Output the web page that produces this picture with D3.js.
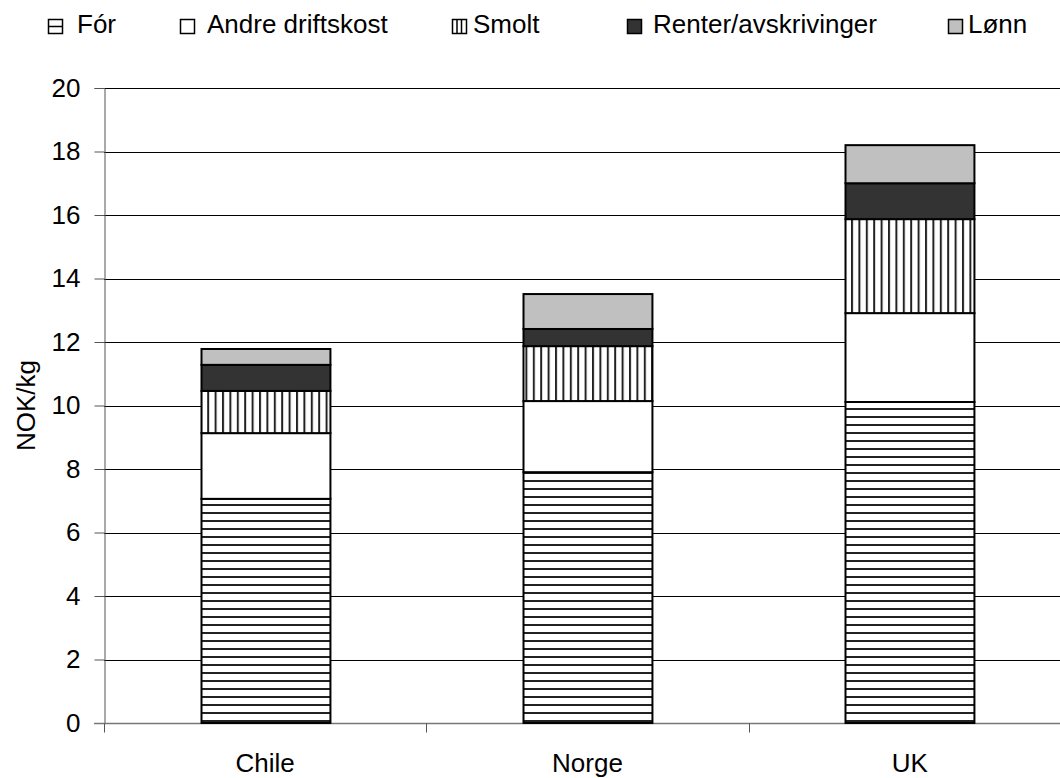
<!DOCTYPE html>
<html>
<head>
<meta charset="utf-8">
<script src="https://cdn.jsdelivr.net/npm/d3@7"></script>
<style>
  body { margin: 0; background: #fff; }
  text { font-family: "Liberation Sans", Arial, sans-serif; fill: #000; }
</style>
</head>
<body>
<script>
// data
const countries = ["Chile", "Norge", "UK"];
const seriesNames = ["Fór", "Andre driftskost", "Smolt", "Renter/avskrivinger", "Lønn"];
const forCost = [7.06, 7.9, 10.11];
const andreCost = [2.07, 2.24, 2.8];
const smoltCost = [1.33, 1.73, 2.96];
const renterCost = [0.82, 0.54, 1.13];
const lonnCost = [0.5, 1.1, 1.2];
const yTicks = [0, 2, 4, 6, 8, 10, 12, 14, 16, 18, 20];

const width = 1060, height = 778;
const margin = { top: 88, right: -11, bottom: 55, left: 104 };
const fontSize = "26px";

const rows = countries.map((c, i) => ({
    country: c,
    "Fór": forCost[i],
    "Andre driftskost": andreCost[i],
    "Smolt": smoltCost[i],
    "Renter/avskrivinger": renterCost[i],
    "Lønn": lonnCost[i]
}));

const stack = d3.stack().keys(seriesNames)(rows);

const svg = d3.select("body").append("svg")
    .attr("width", width)
    .attr("height", height);

// patterns
const defs = svg.append("defs");
const hp = defs.append("pattern")
    .attr("id", "hlines").attr("patternUnits", "userSpaceOnUse")
    .attr("width", 8).attr("height", 8);
hp.append("rect").attr("width", 8).attr("height", 8).attr("fill", "#fff");
hp.append("rect").attr("y", 0).attr("width", 8).attr("height", 2).attr("fill", "#222");

const vp = defs.append("pattern")
    .attr("id", "vlines").attr("patternUnits", "userSpaceOnUse")
    .attr("width", 7.4).attr("height", 8);
vp.append("rect").attr("width", 7.4).attr("height", 8).attr("fill", "#fff");
vp.append("rect").attr("x", 0).attr("width", 2).attr("height", 8).attr("fill", "#222");

const fills = {
    "Fór": "url(#hlines)",
    "Andre driftskost": "#fff",
    "Smolt": "url(#vlines)",
    "Renter/avskrivinger": "#333333",
    "Lønn": "#c0c0c0"
};

const x = d3.scaleBand()
    .domain(countries)
    .range([margin.left, width - margin.right])
    .paddingInner(0.6).paddingOuter(0.3);

const y = d3.scaleLinear()
    .domain([0, 20])
    .range([height - margin.bottom, margin.top]);

// gridlines
svg.append("g")
    .selectAll("line")
    .data(yTicks.filter(d => d > 0))
    .join("line")
    .attr("x1", margin.left).attr("x2", width)
    .attr("y1", d => Math.round(y(d)) + 0.5).attr("y2", d => Math.round(y(d)) + 0.5)
    .attr("stroke", "#000").attr("stroke-width", 1);

// y axis
const yAxis = svg.append("g")
    .attr("transform", `translate(${margin.left + 0.5},0)`)
    .call(d3.axisLeft(y).tickValues(yTicks).tickSize(10).tickPadding(14));
yAxis.select(".domain").attr("stroke", "#555");
yAxis.selectAll(".tick line").attr("stroke", "#555");
yAxis.selectAll("text")
    .attr("fill", "#000")
    .style("font-size", fontSize)
    .style("font-family", "Liberation Sans, Arial, sans-serif");

// x axis
const band = (width - margin.right - margin.left) / 3;
const xAxisG = svg.append("g")
    .attr("transform", `translate(0,${Math.round(y(0)) + 0.5})`);
xAxisG.append("line")
    .attr("x1", margin.left - 10).attr("x2", width)
    .attr("stroke", "#777").attr("stroke-width", 1.5);
xAxisG.selectAll(".sep")
    .data([0, 1, 2])
    .join("line")
    .attr("x1", d => Math.round(margin.left + band * d) + 0.5)
    .attr("x2", d => Math.round(margin.left + band * d) + 0.5)
    .attr("y1", 0).attr("y2", 9)
    .attr("stroke", "#555");
xAxisG.selectAll("text")
    .data(countries)
    .join("text")
    .attr("x", d => x(d) + x.bandwidth() / 2)
    .attr("y", 48)
    .attr("text-anchor", "middle")
    .style("font-size", fontSize)
    .text(d => d);

// bars
svg.append("g")
    .selectAll("g")
    .data(stack)
    .join("g")
    .attr("fill", d => fills[d.key])
    .selectAll("rect")
    .data(d => d)
    .join("rect")
    .attr("x", d => Math.round(x(d.data.country)) + 0.5)
    .attr("y", d => y(d[1]))
    .attr("width", x.bandwidth())
    .attr("height", d => y(d[0]) - y(d[1]))
    .attr("stroke", "#000")
    .attr("stroke-width", 2);

// y label
svg.append("text")
    .attr("transform", `translate(35,${(margin.top + height - margin.bottom) / 2}) rotate(-90)`)
    .attr("text-anchor", "middle")
    .style("font-size", fontSize)
    .text("NOK/kg");

// legend
const legendX = [48, 180, 452, 627, 948];
const legendTextX = [77, 207, 473, 653, 968];
const sq = 14;
const legend = svg.append("g")
    .selectAll("g")
    .data(seriesNames)
    .join("g");
legend.append("rect")
    .attr("x", (d, i) => legendX[i] + 0.5).attr("y", 19.5)
    .attr("width", sq).attr("height", sq)
    .attr("fill", d => d === "Renter/avskrivinger" ? "#333" : d === "Lønn" ? "#c0c0c0" : "#fff")
    .attr("stroke", "#000").attr("stroke-width", 1.5);
legend.filter(d => d === "Fór").append("line")
    .attr("x1", legendX[0]).attr("x2", legendX[0] + sq + 1).attr("y1", 26.5).attr("y2", 26.5)
    .attr("stroke", "#000").attr("stroke-width", 1.5);
legend.filter(d => d === "Smolt").selectAll("line")
    .data([5, 9.5])
    .join("line")
    .attr("x1", d => legendX[2] + d).attr("x2", d => legendX[2] + d)
    .attr("y1", 19.5).attr("y2", 19.5 + sq)
    .attr("stroke", "#000").attr("stroke-width", 1.5);
legend.append("text")
    .attr("x", (d, i) => legendTextX[i])
    .attr("y", 33)
    .style("font-size", fontSize)
    .text(d => d);
</script>
</body>
</html>
